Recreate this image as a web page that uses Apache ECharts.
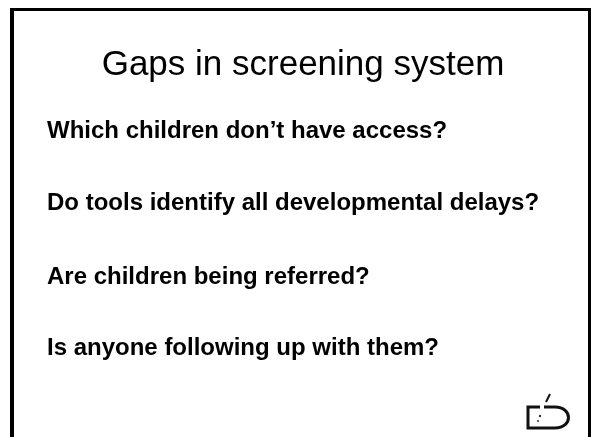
<!DOCTYPE html>
<html>
<head>
<meta charset="utf-8">
<script src="https://cdn.jsdelivr.net/npm/echarts@6/dist/echarts.min.js"></script>
<style>
html,body{margin:0;padding:0;background:#fff;}
#main{width:593px;height:437px;}
</style>
</head>
<body>
<div id="main"></div>
<script>
var titleText = 'Gaps in screening system';
var questions = [
  'Which children don\u2019t have access?',
  'Do tools identify all developmental delays?',
  'Are children being referred?',
  'Is anyone following up with them?'
];
var questionBaselines = [140, 212, 286, 357];

var chart = echarts.init(document.getElementById('main'), null, {renderer: 'canvas'});
var elements = [];
elements.push({type: 'rect', shape: {x: 0, y: 0, width: 593, height: 437}, style: {fill: '#fff'}, z: 0});
// frame
elements.push({type: 'line', shape: {x1: 12, y1: 8, x2: 12, y2: 440}, style: {stroke: '#000', lineWidth: 4}, z: 1});
elements.push({type: 'line', shape: {x1: 10, y1: 9.5, x2: 591, y2: 9.5}, style: {stroke: '#000', lineWidth: 3}, z: 1});
elements.push({type: 'line', shape: {x1: 589.5, y1: 8, x2: 589.5, y2: 440}, style: {stroke: '#000', lineWidth: 3}, z: 1});
// title
var tSize = 35;
elements.push({type: 'text', x: 303, y: 78 - tSize * 0.35, style: {
  text: titleText, font: 'normal ' + tSize + 'px "Liberation Sans", Arial, sans-serif',
  fill: '#000', align: 'center', verticalAlign: 'middle'}, z: 2});
// questions
var qSize = 24;
questions.forEach(function (q, i) {
  elements.push({type: 'text', x: 47, y: questionBaselines[i] - qSize * 0.35, style: {
    text: q, font: 'bold ' + qSize + 'px "Liberation Sans", Arial, sans-serif',
    fill: '#000', align: 'left', verticalAlign: 'middle'}, z: 2});
});
// logo
elements.push({type: 'polyline', shape: {points: [[540, 407], [528, 407], [528, 428], [555, 428]]},
  style: {fill: null, stroke: '#111', lineWidth: 3}, z: 2});
elements.push({type: 'bezierCurve', shape: {x1: 555, y1: 428, cpx1: 573, cpy1: 428, cpx2: 573, cpy2: 407, x2: 555, y2: 407},
  style: {fill: null, stroke: '#111', lineWidth: 3}, z: 2});
elements.push({type: 'line', shape: {x1: 555, y1: 407, x2: 544, y2: 407}, style: {stroke: '#111', lineWidth: 3}, z: 2});
elements.push({type: 'line', shape: {x1: 546, y1: 402, x2: 550, y2: 394}, style: {stroke: '#111', lineWidth: 2}, z: 2});
elements.push({type: 'circle', shape: {cx: 540, cy: 416, r: 1.2}, style: {fill: '#333'}, z: 2});
elements.push({type: 'circle', shape: {cx: 538, cy: 421, r: 1}, style: {fill: '#333'}, z: 2});

chart.setOption({
  backgroundColor: '#fff',
  animation: false,
  graphic: {elements: elements}
});
</script>
</body>
</html>
